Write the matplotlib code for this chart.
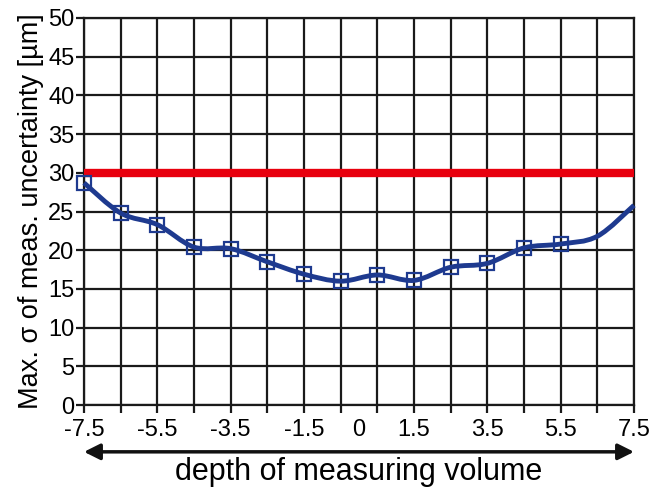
import numpy as np
import matplotlib
matplotlib.use("Agg")
import matplotlib.pyplot as plt
from matplotlib.path import Path
from matplotlib.patches import PathPatch

plt.rcParams['font.family'] = ['Liberation Sans', 'DejaVu Sans']

# data
depth = [-7.5, -6.5, -5.5, -4.5, -3.5, -2.5, -1.5, -0.5, 0.5, 1.5, 2.5, 3.5, 4.5, 5.5, 6.5, 7.5]
sigma = [28.7, 24.8, 23.3, 20.4, 20.2, 18.5, 16.9, 16.0, 16.8, 16.1, 17.8, 18.3, 20.3, 20.8, 21.8, 25.8]
n_markers = 14
limit_value = 30
x_tick_labels = ['-7.5', '-5.5', '-3.5', '-1.5', '0', '1.5', '3.5', '5.5', '7.5']
y_ticks = [0, 5, 10, 15, 20, 25, 30, 35, 40, 45, 50]

blue = '#1e3a8f'
red = '#e8000e'

fig = plt.figure(figsize=(6.54, 4.91), dpi=100)
ax = fig.add_axes([84/654, 1-405/491, 550/654, 387/491])
ax.set_xlim(-7.5, 7.5)
ax.set_ylim(0, 50)

# grid
ax.set_xticks(depth)
lbl = []
for d in depth:
    s = ('%g' % d)
    lbl.append(s if s in x_tick_labels else '')
ax.set_xticklabels(lbl)
ax.set_xticks([0], minor=True)
ax.set_xticklabels(['0'], minor=True)
ax.tick_params(axis='x', which='minor', length=0, pad=10, labelsize=17)
ax.set_yticks(y_ticks)
ax.grid(True, color='#1a1a1a', linewidth=1.6)
ax.tick_params(axis='x', which='major', length=6, width=1.6, color='#1a1a1a', pad=4, labelsize=17, direction='out')
ax.tick_params(axis='y', length=6, width=1.6, color='#1a1a1a', pad=1, labelsize=17)
for sp in ax.spines.values():
    sp.set_color('#1a1a1a')
    sp.set_linewidth(1.6)

# limit line
ax.plot([-7.5, 7.5], [limit_value, limit_value], color=red, linewidth=6, solid_capstyle='butt', zorder=3, clip_on=False)

# smooth curve (Catmull-Rom drawn as Bezier path)
P = np.column_stack([depth, sigma])
verts = [tuple(P[0])]
codes = [Path.MOVETO]
n = len(P)
for i in range(n - 1):
    p0 = P[i - 1] if i > 0 else P[i]
    p1 = P[i]
    p2 = P[i + 1]
    p3 = P[i + 2] if i + 2 < n else P[i + 1]
    c1 = p1 + (p2 - p0) / 6.0
    c2 = p2 - (p3 - p1) / 6.0
    verts += [tuple(c1), tuple(c2), tuple(p2)]
    codes += [Path.CURVE4] * 3
patch = PathPatch(Path(verts, codes), facecolor='none', edgecolor=blue, linewidth=3.5,
                  transform=ax.transData, zorder=4, clip_on=False)
ax.add_patch(patch)
ax.plot(depth[:n_markers], sigma[:n_markers], linestyle='none', marker='s', markersize=9.5,
        markerfacecolor='none', markeredgecolor=blue, markeredgewidth=1.6, zorder=5, clip_on=False)

ax.set_ylabel('Max. σ of meas. uncertainty [µm]', fontsize=19.5, labelpad=3)

# arrow and x label
ax.annotate('', xy=(1.0, -0.121), xytext=(0.0, -0.121), xycoords='axes fraction',
            textcoords='axes fraction',
            arrowprops=dict(arrowstyle='<|-|>', color='#111111', lw=2.5,
                            mutation_scale=24, shrinkA=0, shrinkB=0))
fig.text((84 + 634) / 2 / 654, 1 - 472 / 491, 'depth of measuring volume', ha='center', va='center', fontsize=22)

fig.savefig('out.png', dpi=100)
